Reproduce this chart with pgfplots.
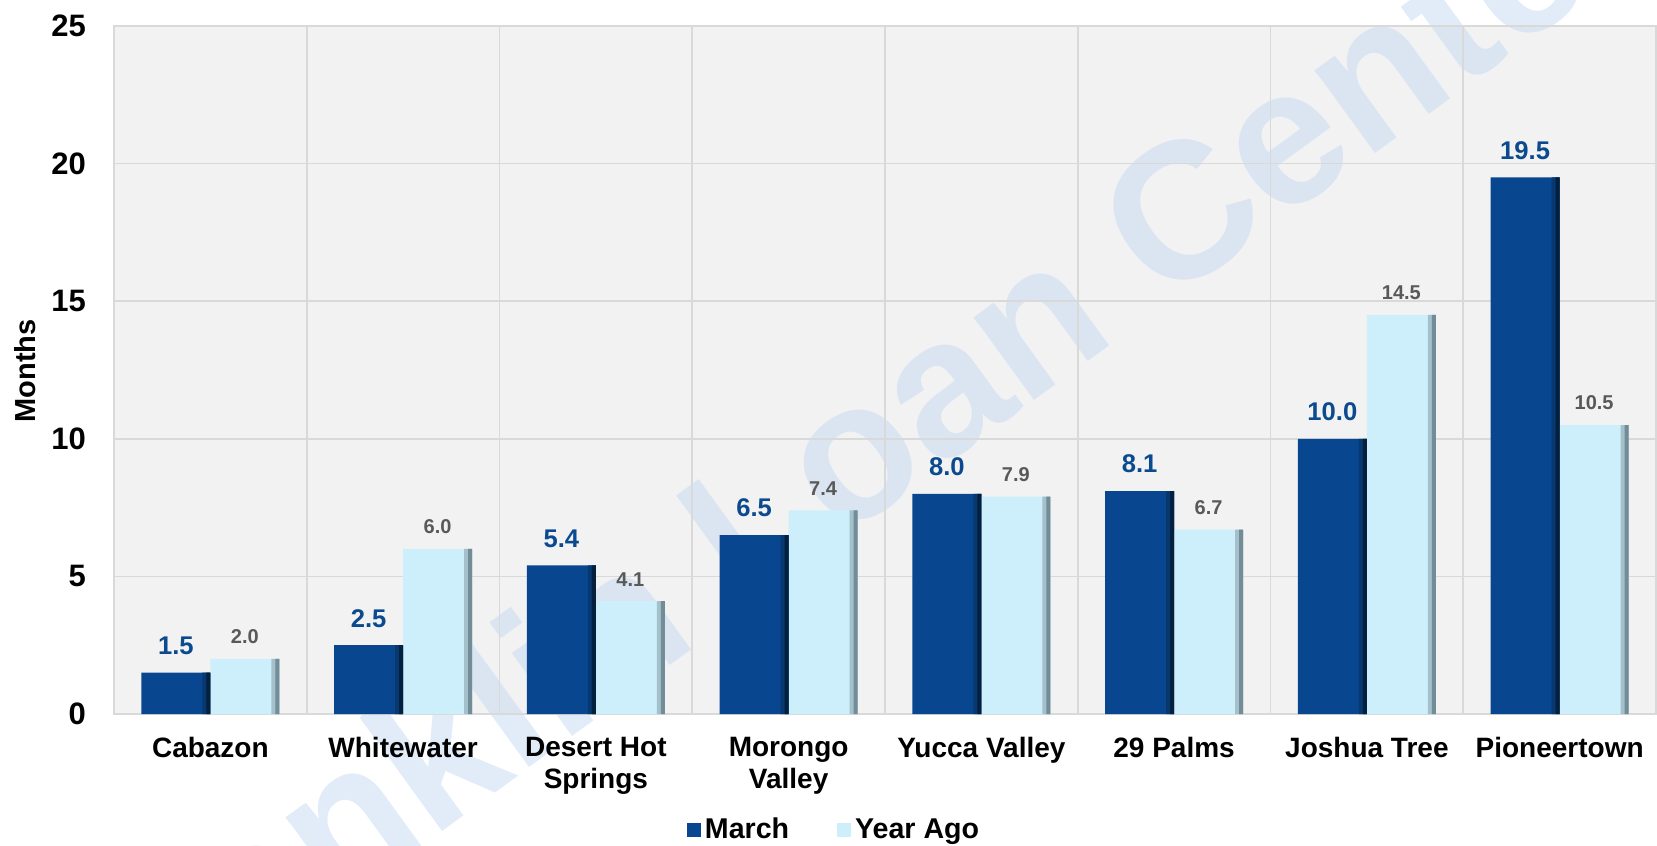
\documentclass[border=0pt]{standalone}
\usepackage{pgfplots}
\pgfplotsset{compat=1.18}
\usepackage{fontspec}
\setmainfont{Liberation Sans}
\definecolor{dkA}{HTML}{084790}
\definecolor{dkM}{HTML}{07386F}
\definecolor{dkE}{HTML}{04203F}
\definecolor{ltA}{HTML}{CDEFFC}
\definecolor{ltM}{HTML}{A4C0CB}
\definecolor{ltE}{HTML}{738D98}
\definecolor{bgc}{HTML}{F2F2F2}
\definecolor{grd}{HTML}{D9D9D9}
\definecolor{wm}{HTML}{C5DAF2}
\definecolor{lblue}{HTML}{0B4A8F}
\definecolor{lgray}{HTML}{595959}

\pgfplotstableread{
x march yearago
0 1.5 2.0
1 2.5 6.0
2 5.4 4.1
3 6.5 7.4
4 8.0 7.9
5 8.1 6.7
6 10.0 14.5
7 19.5 10.5
}\datatable

\begin{document}
\begin{tikzpicture}
\fill[bgc] (0,0) rectangle (771pt,344pt);
% watermark behind the bars
\node[rotate=36, text=wm, opacity=0.5, font=\fontsize{97}{97}\selectfont\bfseries]
  at (360.5pt,127pt) {Franklin Loan Center};
\begin{axis}[
  at={(0,0)}, anchor=south west,
  scale only axis, width=771pt, height=344pt,
  xmin=-0.5, xmax=7.5, ymin=0, ymax=25,
  xtick={0,...,7},
  xticklabels={Cabazon,Whitewater,{Desert Hot\\Springs},{Morongo\\Valley},Yucca Valley,29 Palms,Joshua Tree,Pioneertown},
  minor xtick={-0.5,0.5,...,7.5},
  ytick={0,5,...,25},
  xmajorgrids=false, xminorgrids=true, ymajorgrids=true,
  grid style={grd, line width=0.8pt},
  minor grid style={grd, line width=0.8pt},
  axis line style={grd, line width=0.8pt},
  major tick length=0pt, minor tick length=0pt,
  /pgf/number format/assume math mode=true,
  xticklabel style={align=center, anchor=north, yshift=-8pt,
    font=\fontsize{14}{16}\selectfont\bfseries},
  yticklabel style={anchor=east, xshift=-10.5pt,
    font=\fontsize{15.5}{16}\selectfont\bfseries},
  ylabel={Months},
  every axis y label/.style={at={(-44.5pt,171.5pt)}, rotate=90, anchor=center,
    font=\fontsize{14.5}{16}\selectfont\bfseries},
  lbl/.style={nodes near coords,
    nodes near coords style={/pgf/number format/fixed, /pgf/number format/fixed zerofill,
      /pgf/number format/precision=1, /pgf/number format/assume math mode=true}},
  legend style={at={(0.4676,-0.1686)}, anchor=center, draw=none, fill=none,
    font=\fontsize{14.3}{16}\selectfont\bfseries, legend columns=2,
    /tikz/every even column/.append style={column sep=22pt}},
  legend image code/.code={\fill[#1] (0pt,-3.5pt) rectangle (7pt,3.5pt);},
]
\addplot[ybar, bar width=34.5pt, bar shift=-17.25pt, draw=none, fill=dkA, lbl,
  every node near coord/.append style={anchor=center, xshift=-17.25pt, yshift=13.5pt,
    text=lblue, font=\fontsize{12.8}{14}\selectfont\bfseries}]
  table[x=x, y=march] {\datatable};
\addlegendentry{March}
\addplot[ybar, bar width=34.5pt, bar shift=17.25pt, draw=none, fill=ltA, lbl,
  every node near coord/.append style={anchor=center, xshift=17.25pt, yshift=11pt,
    text=lgray, font=\fontsize{10}{12}\selectfont\bfseries}]
  table[x=x, y=yearago] {\datatable};
\addlegendentry{Year Ago}
% shaded right-hand edges of the bars
\addplot[ybar, bar width=4pt, bar shift=-2pt, draw=none, fill=dkM, forget plot]
  table[x=x, y=march] {\datatable};
\addplot[ybar, bar width=2pt, bar shift=-1pt, draw=none, fill=dkE, forget plot]
  table[x=x, y=march] {\datatable};
\addplot[ybar, bar width=4pt, bar shift=32.5pt, draw=none, fill=ltM, forget plot]
  table[x=x, y=yearago] {\datatable};
\addplot[ybar, bar width=2pt, bar shift=33.5pt, draw=none, fill=ltE, forget plot]
  table[x=x, y=yearago] {\datatable};
\end{axis}
\pgfresetboundingbox
\path[use as bounding box] (-57pt,-65.5pt) rectangle (771.5pt,357pt);
\end{tikzpicture}
\end{document}
